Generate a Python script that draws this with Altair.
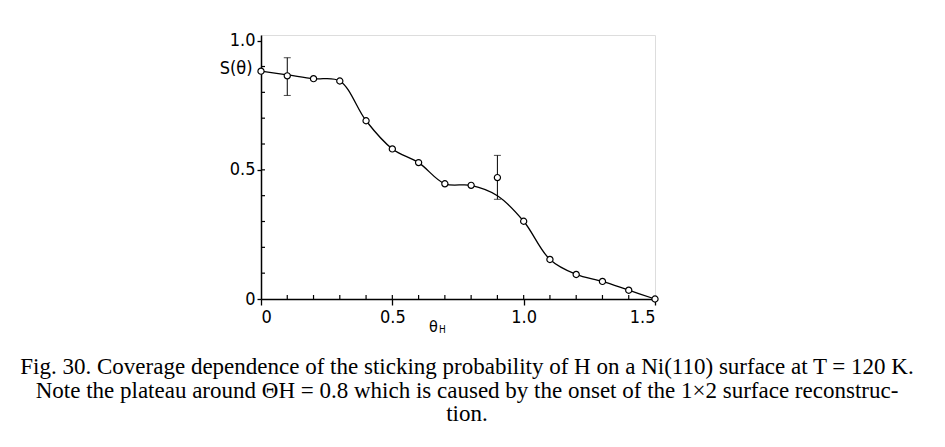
import altair as alt
import pandas as pd

# Measured points (coverage, sticking probability)
theta = [0.0, 0.1, 0.2, 0.3, 0.4, 0.5, 0.6, 0.7, 0.8, 0.9, 1.0, 1.1, 1.2, 1.3, 1.4, 1.5]
s_pts = [0.882, 0.864, 0.853, 0.844, 0.690, 0.581, 0.528, 0.446, 0.440, 0.470,
         0.301, 0.153, 0.095, 0.068, 0.034, 0.0]
# Smooth guide curve values read at the same coverages
s_curve = [0.882, 0.868, 0.853, 0.844, 0.690, 0.581, 0.528, 0.446, 0.440, 0.400,
           0.301, 0.153, 0.095, 0.068, 0.034, 0.0]
# Error bars
err_x = [0.1, 0.9]
err_lo = [0.788, 0.386]
err_hi = [0.934, 0.556]
# Ticks
x_major = [0.0, 0.5, 1.0, 1.5]
y_major = [0.0, 0.5, 1.0]
x_minor = [0.1, 0.2, 0.3, 0.4, 0.5, 0.6, 0.7, 0.8, 0.9, 1.0, 1.1, 1.2, 1.3, 1.4]
y_minor = [0.1, 0.2, 0.3, 0.4, 0.5, 0.6, 0.7, 0.8, 0.9]

caption = [
    "Fig. 30. Coverage dependence of the sticking probability of H on a Ni(110) surface at T = 120 K.",
    "Note the plateau around ΘH = 0.8 which is caused by the onset of the 1×2 surface reconstruc-",
    "tion.",
]

W, H = 394, 264
TICKFONT = "DejaVu Sans Condensed, DejaVu Sans"
LBL = "datum.value == 0 ? '0' : datum.value == 0.5 ? '0.5' : datum.value == 1 ? '1.0' : '1.5'"

pts = pd.DataFrame({"theta": theta, "s": s_pts})
curve = pd.DataFrame({"theta": theta, "s": s_curve})
err = pd.DataFrame({"theta": err_x, "lo": err_lo, "hi": err_hi})
xm = pd.DataFrame({"v": x_minor})
ym = pd.DataFrame({"v": y_minor})

xscale = alt.Scale(domain=[0, 1.5], nice=False)
yscale = alt.Scale(domain=[0, 1.022], nice=False)

xaxis = alt.Axis(values=x_major, labelExpr=LBL,
                 title="θ", titleFont=TICKFONT, titleFontSize=16, titleFontWeight="normal",
                 titleX=172, titleY=27, titleBaseline="middle",
                 labelFont=TICKFONT, labelFontSize=18, labelPadding=3, tickSize=6,
                 tickColor="black", domainColor="black", domainWidth=1.5, tickWidth=1.3,
                 labelColor="black", titleColor="black", grid=False)
yaxis = alt.Axis(values=y_major, labelExpr=LBL,
                 title="S(θ)", titleAngle=0, titleAlign="right", titleBaseline="middle",
                 titleX=-9, titleY=33, titleFont=TICKFONT, titleFontSize=18, titleFontWeight="normal",
                 labelFont=TICKFONT, labelFontSize=18, labelPadding=2, tickSize=4,
                 tickColor="black", domainColor="black", domainWidth=1.5, tickWidth=1.3,
                 labelColor="black", titleColor="black", grid=False)

line = alt.Chart(curve).mark_line(interpolate="catmull-rom", color="black", strokeWidth=1.3).encode(
    x=alt.X("theta:Q", scale=xscale, axis=xaxis),
    y=alt.Y("s:Q", scale=yscale, axis=yaxis),
)

bars = alt.Chart(err).mark_rule(color="black", strokeWidth=1).encode(
    x=alt.X("theta:Q", scale=xscale), y=alt.Y("lo:Q", scale=yscale), y2="hi:Q"
)
cap_lo = alt.Chart(err).mark_tick(orient="horizontal", color="black", size=7, thickness=1).encode(
    x=alt.X("theta:Q", scale=xscale), y=alt.Y("lo:Q", scale=yscale)
)
cap_hi = alt.Chart(err).mark_tick(orient="horizontal", color="black", size=7, thickness=1).encode(
    x=alt.X("theta:Q", scale=xscale), y=alt.Y("hi:Q", scale=yscale)
)

points = alt.Chart(pts).mark_point(shape="circle", filled=False, fill="white", fillOpacity=1,
                                   color="black", size=38, strokeWidth=1.2, opacity=1).encode(
    x=alt.X("theta:Q", scale=xscale), y=alt.Y("s:Q", scale=yscale)
)

xminor = alt.Chart(xm).mark_rule(color="black", strokeWidth=1.2).encode(
    x=alt.X("v:Q", scale=xscale), y=alt.value(H), y2=alt.value(H - 4)
)
yminor = alt.Chart(ym).mark_rule(color="black", strokeWidth=1.2).encode(
    y=alt.Y("v:Q", scale=yscale), x=alt.value(0), x2=alt.value(4)
)

sub = alt.Chart(pd.DataFrame({"t": ["H"]})).mark_text(
    font=TICKFONT, fontSize=10, color="black", align="left", baseline="middle"
).encode(text="t:N", x=alt.value(178), y=alt.value(H + 31))

chart = alt.layer(line, bars, cap_lo, cap_hi, xminor, yminor, points, sub).properties(
    width=W, height=H,
    autosize=alt.AutoSizeParams(type="none"),
    padding={"left": 261, "top": 35, "right": 945 - 261 - W, "bottom": 447 - 35 - H},
    title=alt.TitleParams(text=caption, orient="bottom", anchor="middle", font="Liberation Serif",
                          fontSize=23, fontWeight="normal", color="black", lineHeight=23.5,
                          offset=21, dx=9),
).configure_view(stroke="black", strokeWidth=1.5).configure(background="white")

chart.save("out.html", embed_options={"renderer": "svg", "actions": False})
